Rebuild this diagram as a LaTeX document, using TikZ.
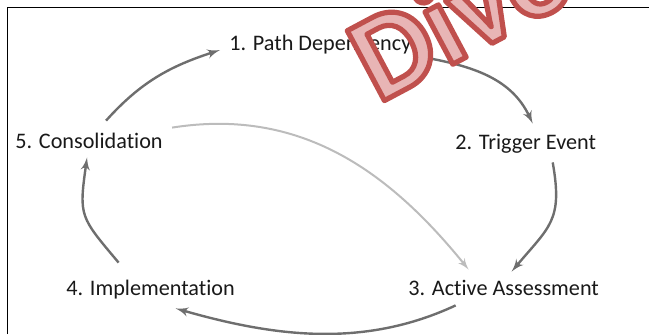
\documentclass[tikz,border=0pt]{standalone}
\usepackage{fontspec}
\setmainfont{Carlito}[Ligatures={NoCommon,NoContextual}]
\usetikzlibrary{arrows}
\definecolor{flowgray}{HTML}{6E6E6E}
\definecolor{flowlight}{HTML}{BCBCBC}
\definecolor{stampfill}{HTML}{E8B5B5}
% rand merah untuk stempel (mode render teks 2: isi dan garis)
\newcommand{\stampoutline}[1]{\special{pdf:literal 2 Tr 0.753 0.314 0.302 RG 2.6 w 1 j}#1\special{pdf:literal 0 Tr}}
\tikzstyle{stage} = [inner sep=0pt, anchor=base west, text height=8pt, text depth=2.5pt, font=\fontsize{11.1}{13.3}\selectfont, text=black!90]
\tikzstyle{flow} = [->, draw=flowgray, line width=1.2pt]
\tikzstyle{shortcut} = [->, draw=flowlight, line width=1pt]
\tikzstyle{stamp} = [inner sep=0pt, anchor=base west, rotate=28, text=stampfill, font=\fontsize{61}{63}\selectfont\bfseries]

\begin{document}
\begin{tikzpicture}[x=0.5pt, y=0.5pt, >=latex']
		\useasboundingbox (0,0) rectangle (649,334);
		\clip (0,0) rectangle (649,334);
		% Bingkai
		\draw[line width=0.8pt] (7.5,0) -- (7.5,326.5) -- (649,326.5);
		
		% Tahap siklus
		\node[stage] (path) at (229,284) {1. Path Dependency};
		\node[stage] (trigger) at (455,185) {2. Trigger Event};
		\node[stage] (active) at (408,39) {3. Active Assessment};
		\node[stage] (impl) at (66,39) {4. Implementation};
		\node[stage] (consol) at (15,186) {5. Consolidation};
		
		% Panah siklus
		\draw[flow] ([xshift=8.5pt,yshift=5.5pt]consol.north) to[out=48,in=198] ([xshift=-4.5pt,yshift=-2.75pt]path.west);
		\draw[flow] ([xshift=2.5pt,yshift=-5.75pt]path.east) to[out=-10,in=115] ([xshift=3.5pt,yshift=4.5pt]trigger.north);
		\draw[flow] ([xshift=13.5pt,yshift=-4pt]trigger.south) to[out=-80,in=50,looseness=1.3] ([xshift=4pt,yshift=3.5pt]active.north);
		\draw[flow] ([xshift=-24pt,yshift=-2.5pt]active.south) to[out=-155,in=-16,looseness=0.93] ([xshift=12.5pt,yshift=-4pt]impl.south);
		\draw[flow] ([xshift=-16pt,yshift=8pt]impl.north) to[out=130,in=-98,looseness=1.4] ([xshift=-1pt,yshift=-2pt]consol.south);
		\draw[shortcut] ([xshift=4.5pt,yshift=2pt]consol.north east) to[out=9,in=129] ([xshift=-17.5pt,yshift=4.5pt]active.north);
		
		% Stempel
		\node[stamp] (stamp) at (378,230) {\stampoutline{Divo}};
	\end{tikzpicture}
\end{document}
